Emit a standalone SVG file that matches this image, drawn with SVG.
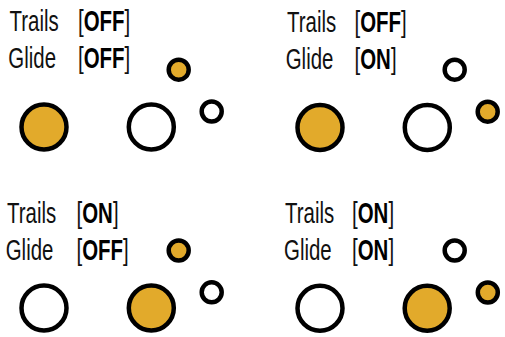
<svg xmlns="http://www.w3.org/2000/svg" width="505" height="337" viewBox="0 0 505 337">
<style>
  .lbl { font-family: "Liberation Sans", Arial, sans-serif; font-size: 29px; fill: #111; }
  .b { font-weight: bold; fill: #000; }
  .on { fill: #E2AA2B; stroke: #000; stroke-width: 4.5; }
  .off { fill: #fff; stroke: #000; stroke-width: 4.5; }
</style>
<rect width="505" height="337" fill="#fff"/>
<g id="panel-trails-off-glide-off">
  <text class="lbl" transform="translate(9.5,31) scale(0.705,1)">Trails</text>
  <g transform="translate(78,31) scale(0.705,1)"><text class="lbl">[</text><text class="lbl b" x="8.1">OFF</text><text class="lbl" x="66.1">]</text></g>
  <text class="lbl" transform="translate(8.3,68) scale(0.705,1)">Glide</text>
  <g transform="translate(78,68) scale(0.705,1)"><text class="lbl">[</text><text class="lbl b" x="8.1">OFF</text><text class="lbl" x="66.1">]</text></g>
  <circle class="on" cx="44" cy="127" r="22.5"/>
  <circle class="off" cx="151.3" cy="127" r="22.5"/>
  <circle class="on" cx="178.7" cy="69.7" r="10"/>
  <circle class="off" cx="211.7" cy="111.5" r="10"/>
</g>
<g id="panel-trails-off-glide-on">
  <text class="lbl" transform="translate(287,31.5) scale(0.705,1)">Trails</text>
  <g transform="translate(354.5,31.5) scale(0.705,1)"><text class="lbl">[</text><text class="lbl b" x="8.1">OFF</text><text class="lbl" x="66.1">]</text></g>
  <text class="lbl" transform="translate(285.7,68.5) scale(0.705,1)">Glide</text>
  <g transform="translate(354.5,68.5) scale(0.705,1)"><text class="lbl">[</text><text class="lbl b" x="8.1">ON</text><text class="lbl" x="51.6">]</text></g>
  <circle class="on" cx="320" cy="127.5" r="22.5"/>
  <circle class="off" cx="427.3" cy="127.5" r="22.5"/>
  <circle class="off" cx="454.7" cy="69.7" r="10"/>
  <circle class="on" cx="487.7" cy="111.7" r="10"/>
</g>
<g id="panel-trails-on-glide-off">
  <text class="lbl" transform="translate(7,223) scale(0.705,1)">Trails</text>
  <g transform="translate(76.5,223) scale(0.705,1)"><text class="lbl">[</text><text class="lbl b" x="8.1">ON</text><text class="lbl" x="51.6">]</text></g>
  <text class="lbl" transform="translate(5.7,260) scale(0.705,1)">Glide</text>
  <g transform="translate(76.5,260) scale(0.705,1)"><text class="lbl">[</text><text class="lbl b" x="8.1">OFF</text><text class="lbl" x="66.1">]</text></g>
  <circle class="off" cx="44" cy="308" r="22.5"/>
  <circle class="on" cx="151.3" cy="308" r="22.5"/>
  <circle class="on" cx="178.7" cy="250.5" r="10"/>
  <circle class="off" cx="211.7" cy="292.3" r="10"/>
</g>
<g id="panel-trails-on-glide-on">
  <text class="lbl" transform="translate(285,223) scale(0.705,1)">Trails</text>
  <g transform="translate(352,223) scale(0.705,1)"><text class="lbl">[</text><text class="lbl b" x="8.1">ON</text><text class="lbl" x="51.6">]</text></g>
  <text class="lbl" transform="translate(284,260) scale(0.705,1)">Glide</text>
  <g transform="translate(352,260) scale(0.705,1)"><text class="lbl">[</text><text class="lbl b" x="8.1">ON</text><text class="lbl" x="51.6">]</text></g>
  <circle class="off" cx="320" cy="308.3" r="22.5"/>
  <circle class="on" cx="427.2" cy="308.3" r="22.5"/>
  <circle class="off" cx="454.7" cy="250.5" r="10"/>
  <circle class="on" cx="487.8" cy="292.5" r="10"/>
</g>
</svg>
